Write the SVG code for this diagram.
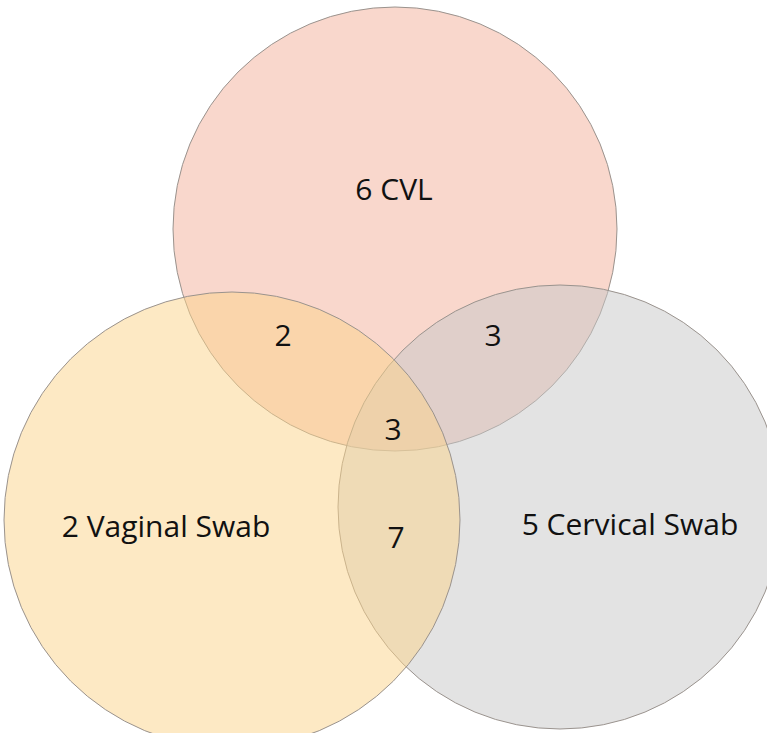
<svg xmlns="http://www.w3.org/2000/svg" width="767" height="733" viewBox="0 0 767 733">
<style>
.c{stroke:#9a938e;stroke-width:1;fill-opacity:0.5}
.t{font-family:"Open Sans","Liberation Sans",sans-serif;font-size:30px;fill:#111;text-anchor:middle}
</style>
<rect width="767" height="733" fill="#ffffff"/>
<g id="cvl"><circle class="c" cx="395" cy="229" r="222" fill="#F4B09A"/></g>
<g id="cervical"><circle class="c" cx="560" cy="507" r="222" fill="#C8C8C8"/></g>
<g id="vaginal"><circle class="c" cx="232" cy="520" r="228" fill="#FBD38A"/></g>
<g id="labels">
<text class="t" x="394" y="200">6 CVL</text>
<text class="t" x="166" y="537">2 Vaginal Swab</text>
<text class="t" x="630" y="535">5 Cervical Swab</text>
<text class="t" x="283" y="346">2</text>
<text class="t" x="493" y="346">3</text>
<text class="t" x="393" y="440">3</text>
<text class="t" x="396" y="548">7</text>
</g>
</svg>
